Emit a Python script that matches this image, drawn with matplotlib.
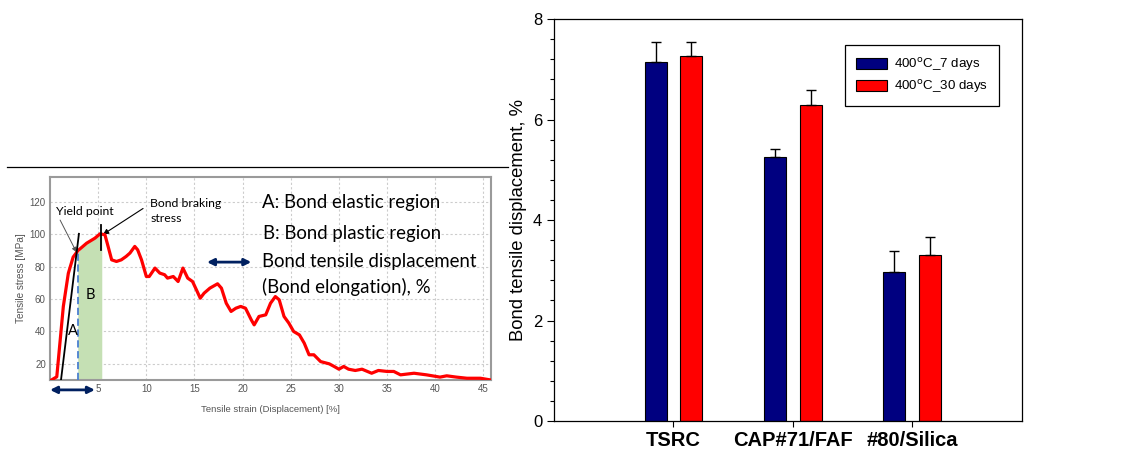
import matplotlib.pyplot as plt
from matplotlib.lines import Line2D

# left panel: tensile stress-strain curve
strain = [0.17, 0.7, 1.38, 1.9, 2.4, 2.9, 3.8, 4.66, 5.2, 5.7, 6.03, 6.4, 6.9, 7.4, 7.9, 8.3,
          8.8, 9.1, 9.5, 10.0, 10.3, 10.9, 11.4, 11.9, 12.2, 12.8, 13.3, 13.8, 14.3, 14.8,
          15.2, 15.6, 16.0, 16.6, 17.4, 17.8, 18.3, 18.8, 19.3, 19.8, 20.3, 20.9, 21.2, 21.7,
          22.4, 22.9, 23.4, 23.8, 24.3, 24.8, 25.3, 25.9, 26.4, 26.9, 27.4, 28.1, 29.0, 29.5,
          30.0, 30.5, 31.0, 31.7, 32.4, 33.4, 34.1, 35.0, 35.7, 36.4, 37.8, 39.1, 40.5, 41.2,
          42.2, 43.3, 44.7, 45.7]
stress = [10.1, 12.0, 55.5, 76.0, 86.0, 90.0, 94.6, 97.7, 100.4, 99.8, 92.6, 84.3, 83.3, 84.3,
          86.4, 88.5, 92.6, 90.5, 84.3, 74.0, 74.0, 79.2, 76.1, 75.1, 73.0, 74.0, 70.9, 79.2,
          73.0, 70.9, 65.8, 60.6, 63.7, 66.8, 69.5, 66.8, 57.5, 52.4, 54.4, 55.5, 54.4, 47.2,
          44.1, 49.3, 50.3, 57.5, 61.6, 59.6, 49.3, 45.2, 40.0, 37.9, 32.8, 25.6, 25.6, 21.4,
          20.0, 18.4, 16.7, 18.4, 16.7, 15.9, 16.7, 14.2, 15.9, 15.3, 15.3, 13.2, 14.2, 13.2,
          11.8, 12.6, 11.8, 11.1, 11.1, 10.1]

# right panel: bond tensile displacement
groups = ["TSRC", "CAP#71/FAF", "#80/Silica"]
disp_7d = [7.14, 5.26, 2.97]
err_7d = [0.41, 0.15, 0.42]
disp_30d = [7.27, 6.28, 3.30]
err_30d = [0.28, 0.30, 0.37]

navy = "#002060"
grey_txt = "#555555"
lato = ["Lato", "DejaVu Sans"]
arial = ["Liberation Sans", "DejaVu Sans"]

fig = plt.figure(figsize=(11.27, 4.53), dpi=100)

# separator line above the left picture
fig.add_artist(Line2D([7 / 1127, 508 / 1127], [0.6313, 0.6313], color="black", lw=0.9))

ax1 = fig.add_axes([0.0444, 0.1611, 0.3913, 0.4481])
ax1.plot(strain, stress, color="red", lw=2.3, zorder=4)
ax1.set_xlim(0.0, 45.8)
ax1.set_ylim(10, 135.5)
ax1.set_xticks(range(5, 46, 5))
ax1.set_yticks(range(20, 121, 20))
ax1.grid(True, ls=(0, (2, 2)), color="#cccccc", lw=0.8)
ax1.tick_params(length=0, labelsize=7, labelcolor=grey_txt, pad=3)
for lab in ax1.get_xticklabels() + ax1.get_yticklabels():
    lab.set_family(arial)
for s in ax1.spines.values():
    s.set_color("#9a9a9a")
    s.set_linewidth(1.5)
ax1.set_xlabel("Tensile strain (Displacement) [%]", fontsize=6.8, color=grey_txt,
               family=arial, labelpad=8)
ax1.set_ylabel("Tensile stress [MPa]", fontsize=7.2, color=grey_txt, family=arial, labelpad=3)

# plastic region B
xs = [x for x in strain if 2.95 <= x <= 5.3]
ys = [stress[strain.index(x)] for x in xs]
ax1.fill_between([2.95] + xs + [5.3], 10, [88.5] + ys + [100.2], color="#c5e0b4", zorder=2)
ax1.plot([2.95, 2.95], [10, 88.5], color="#4a7fd0", ls=(0, (4, 2)), lw=1.3, zorder=3)
ax1.plot([1.14, 3.0], [10.1, 100.4], color="black", lw=1.3, zorder=5)
ax1.plot([5.28, 5.28], [90.5, 106], color="black", lw=1.3, zorder=5)
ax1.text(2.4, 40, "A", fontsize=10.5, family=lato, ha="center", va="center", zorder=6)
ax1.text(4.24, 62.7, "B", fontsize=10.5, family=lato, ha="center", va="center", zorder=6)

ax1.annotate("Yield point", xy=(2.75, 89), xytext=(0.6, 114), fontsize=8.8, family=lato,
             va="center", arrowprops=dict(arrowstyle="-|>", color="#555555", lw=0.7,
                                          mutation_scale=7, shrinkA=0, shrinkB=0,
                                          relpos=(0.05, 0.0)))
ax1.annotate("Bond braking\nstress", xy=(5.5, 100), xytext=(10.4, 114.5), fontsize=8.8,
             family=lato, va="center", linespacing=1.35,
             arrowprops=dict(arrowstyle="-|>", color="black", lw=0.8, mutation_scale=8,
                             shrinkA=0, shrinkB=0, relpos=(-0.1, 0.6)))
big = dict(fontsize=13.4, family=lato, va="center")
ax1.text(22.0, 119.5, "A: Bond elastic region", **big)
ax1.text(22.1, 100.5, "B: Bond plastic region", **big)
ax1.text(22.0, 83.0, "Bond tensile displacement", **big)
ax1.text(22.0, 67.5, "(Bond elongation), %", **big)
ax1.annotate("", xy=(16.3, 82.9), xytext=(20.9, 82.9),
             arrowprops=dict(arrowstyle="<|-|>", color=navy, lw=2, mutation_scale=10,
                             shrinkA=0, shrinkB=0))
ax1.annotate("", xy=(0.0, 3.9), xytext=(4.66, 3.9), annotation_clip=False,
             arrowprops=dict(arrowstyle="<|-|>", color=navy, lw=2, mutation_scale=10,
                             shrinkA=0, shrinkB=0))

# right panel: bars
ax2 = fig.add_axes([0.4916, 0.0706, 0.4153, 0.8874])
pos = [1, 2, 3]
w = 0.185
off = 0.149
ekw = dict(lw=1.0, capsize=3.6, capthick=1.0, ecolor="black")
ax2.bar([p - off for p in pos], disp_7d, w, color="#000080", edgecolor="black", lw=0.8,
        label="400$^\\mathrm{o}$C_7 days")
ax2.bar([p + off for p in pos], disp_30d, w, color="#ff0000", edgecolor="black", lw=0.8,
        label="400$^\\mathrm{o}$C_30 days")
ax2.errorbar([p - off for p in pos], disp_7d, yerr=[[0] * 3, err_7d], fmt="none", **ekw)
ax2.errorbar([p + off for p in pos], disp_30d, yerr=[[0] * 3, err_30d], fmt="none", **ekw)
ax2.set_xlim(0.0, 3.92)
ax2.set_ylim(0, 8)
ax2.set_xticks(pos)
ax2.set_xticklabels(groups, fontsize=14.5, fontweight="bold", family=arial)
ax2.set_yticks([0, 2, 4, 6, 8])
ax2.set_yticks([i * 0.4 for i in range(21)], minor=True)
ax2.tick_params(axis="y", labelsize=12, direction="out", length=5, width=0.8)
ax2.tick_params(axis="y", which="minor", direction="out", length=3, width=0.8)
ax2.tick_params(axis="x", direction="out", length=4, width=0.8, pad=3)
for lab in ax2.get_yticklabels():
    lab.set_family(arial)
ax2.set_ylabel("Bond tensile displacement, %", fontsize=13.3, family=arial, labelpad=4)
for s in ax2.spines.values():
    s.set_linewidth(0.9)
leg = ax2.legend(loc="upper left", bbox_to_anchor=(0.622, 0.935), borderaxespad=0,
                 fancybox=False, edgecolor="black", framealpha=1,
                 handlelength=2.3, handleheight=0.85, handletextpad=0.5,
                 borderpad=0.85, labelspacing=0.35,
                 prop={"family": "Liberation Sans", "size": 9.6})
leg.get_frame().set_linewidth(0.9)

fig.savefig("out.png", dpi=100)
